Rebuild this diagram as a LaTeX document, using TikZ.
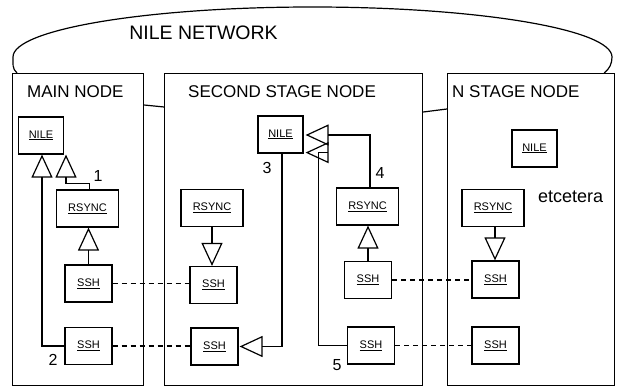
\documentclass[tikz,border=0pt]{standalone}
\usepackage{fontspec}
\setmainfont{Liberation Sans}
\usetikzlibrary{arrows.meta}

\tikzset{
  stagebox/.style={draw, line width=1.2pt, inner sep=0pt, anchor=north west},
  part/.style={draw, line width=1.2pt, inner sep=0pt, minimum height=37pt,
    font=\fontsize{11}{13}\selectfont},
  nilebox/.style={part, minimum width=45pt},
  rsyncbox/.style={part, minimum width=62pt},
  sshbox/.style={part, minimum width=47pt},
  inherit/.style={line width=1.2pt, -{Triangle[open,length=23pt,width=21pt]}},
  link/.style={line width=1.2pt, dash pattern=on 5pt off 4pt},
  title/.style={anchor=west, inner sep=0pt, font=\fontsize{17}{20}\selectfont},
  num/.style={inner sep=0pt, font=\fontsize{16}{18}\selectfont}
}

\begin{document}
\begin{tikzpicture}[x=1pt, y=1pt]
  \useasboundingbox (0,0) rectangle (618,-387);

  % Etapy
  \node[stagebox, minimum width=131pt, minimum height=312pt] (mainbox) at (12,-73) {};
  \node[stagebox, minimum width=258pt, minimum height=312pt] (secbox) at (164,-73) {};
  \node[stagebox, minimum width=167pt, minimum height=312pt] (nbox) at (447,-73) {};

  \node[title] (maintitle) at (27,-92) {MAIN NODE};
  \node[title] (sectitle) at (188,-92) {SECOND STAGE NODE};
  \node[title] (ntitle) at (452,-92) {N STAGE NODE};

  % Sieć
  \draw[line width=1.2pt] ([xshift=5pt]mainbox.north west) to[out=140,in=-90] (13,-57)
    arc[start angle=180, end angle=0, x radius=299.5, y radius=50]
    to[out=-90,in=40] ([xshift=-11pt]nbox.north east);
  \node[inner sep=0pt, font=\fontsize{19.5}{22}\selectfont] (net) at (203.5,-33) {NILE NETWORK};

  \draw[line width=1.2pt] ([yshift=-32pt]mainbox.north east) -- ([yshift=-34pt]secbox.north west);
  \draw[line width=1.2pt] ([yshift=-39pt]secbox.north east) -- ([yshift=-36pt]nbox.north west);

  % Główny węzeł
  \node[nilebox] (nileA) at (41,-135.5) {\underline{NILE}};
  \node[rsyncbox] (rsyncA) at (87.5,-208.5) {\underline{RSYNC}};
  \node[sshbox] (sshA1) at (88.5,-283.5) {\underline{SSH}};
  \node[sshbox] (sshA2) at (88.5,-346) {\underline{SSH}};

  % Drugi etap
  \node[nilebox] (nileB) at (280.5,-134.5) {\underline{NILE}};
  \node[rsyncbox] (rsyncB1) at (212,-208) {\underline{RSYNC}};
  \node[sshbox] (sshB1) at (213.5,-285) {\underline{SSH}};
  \node[sshbox] (sshB2) at (214.5,-346.5) {\underline{SSH}};
  \node[rsyncbox] (rsyncB2) at (367.5,-206.5) {\underline{RSYNC}};
  \node[sshbox] (sshB3) at (368,-280) {\underline{SSH}};
  \node[sshbox] (sshB4) at (371,-345.5) {\underline{SSH}};

  % Etap N
  \node[nilebox] (nileC) at (534.5,-148.5) {\underline{NILE}};
  \node[rsyncbox] (rsyncC) at (493,-208) {\underline{RSYNC}};
  \node[sshbox] (sshC1) at (495.5,-279.5) {\underline{SSH}};
  \node[sshbox] (sshC2) at (495.5,-345.5) {\underline{SSH}};
  \node[anchor=west, inner sep=0pt, font=\fontsize{18}{20}\selectfont] (etc) at (538,-197) {etcetera};

  % Dziedziczenie
  \draw[inherit] (sshA1.north) -- (sshA1.north |- rsyncA.south);
  \draw[inherit] ([xshift=2pt]rsyncA.north) -- ++(0,6) -| ([xshift=25pt]nileA.south);
  \draw[inherit] (sshA2.west) -| ([xshift=1pt]nileA.south);

  \draw[inherit] (rsyncB1.south) -- (rsyncB1.south |- sshB1.north);
  \draw[inherit] ([xshift=1.5pt]nileB.south) |- ([xshift=1pt]sshB2.east);
  \draw[inherit] (sshB3.north) -- ([xshift=0.5pt]rsyncB2.south);
  \draw[inherit] ([xshift=2.5pt]rsyncB2.north) |- ([xshift=2pt,yshift=-0.5pt]nileB.east);
  \coordinate (nileBlow) at ([xshift=2pt,yshift=1pt]nileB.south east);
  \draw[inherit] (sshB4.west) -| ([xshift=13pt]nileBlow) -- (nileBlow);

  \draw[inherit] ([xshift=2pt]rsyncC.south) -- ([xshift=2pt]rsyncC.south |- sshC1.north);

  % Połączenia SSH
  \draw[link] (sshA1.east) -- (sshA1.east -| sshB1.west);
  \draw[link] (sshA2.east) -- (sshA2.east -| sshB2.west);
  \draw[link] (sshB3.east) -- (sshB3.east -| sshC1.west);
  \draw[link] (sshB4.east) -- (sshB4.east -| sshC2.west);

  % Numery
  \node[num] (n1) at (98,-176) {1};
  \node[num] (n2) at (53,-360) {2};
  \node[num] (n3) at (267,-168) {3};
  \node[num] (n4) at (380,-173) {4};
  \node[num] (n5) at (337,-365) {5};
\end{tikzpicture}
\end{document}
